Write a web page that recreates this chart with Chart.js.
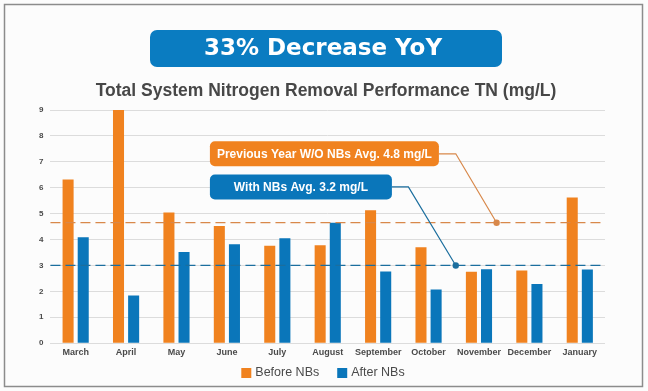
<!DOCTYPE html>
<html>
<head>
<meta charset="utf-8">
<script src="https://cdn.jsdelivr.net/npm/chart.js@4"></script>
<style>
  html, body { margin: 0; padding: 0; background: #fcfcfc; }
  #chart { display: block; }
</style>
</head>
<body>
<canvas id="chart" width="648" height="391"></canvas>
<script>
// Data
const months = ["March", "April", "May", "June", "July", "August", "September", "October", "November", "December", "January"];
const beforeNBs = [6.32, 9.0, 5.04, 4.52, 3.76, 3.78, 5.13, 3.70, 2.76, 2.81, 5.62];
const afterNBs = [4.09, 1.84, 3.52, 3.82, 4.05, 4.65, 2.77, 2.07, 2.85, 2.28, 2.84];
const yTicks = [0, 1, 2, 3, 4, 5, 6, 7, 8, 9];

const bannerText = "33% Decrease YoY";
const chartTitle = "Total System Nitrogen Removal Performance TN (mg/L)";

// Average lines + callouts (value = where the dashed line sits)
const avgLabels = ["Previous Year W/O NBs Avg. 4.8 mg/L", "With NBs Avg. 3.2 mg/L"];
const avgValues = [4.65, 3.0];
const avgDotAt = [8.35, 7.54];     // category index where the callout touches the line
const calloutAt = [7.31, 6.03];    // y value of callout box centre

const ORANGE = "#F0821F";
const BLUE = "#0A76BA";
const FONT = "'Liberation Sans', Arial, sans-serif";

// Frame, banner and title
const framePlugin = {
  id: "frame",
  beforeDraw(chart) {
    const ctx = chart.ctx;
    ctx.save();
    ctx.fillStyle = "#fcfcfc";
    ctx.fillRect(0, 0, chart.width, chart.height);
    ctx.strokeStyle = "#8c8c8c";
    ctx.lineWidth = 1.5;
    ctx.strokeRect(4.5, 4.5, 638, 382);

    ctx.fillStyle = "#0A7CC1";
    ctx.beginPath();
    ctx.roundRect(150, 30, 352, 37, 7);
    ctx.fill();
    ctx.fillStyle = "#fff";
    ctx.font = "bold 23px 'DejaVu Sans', sans-serif";
    ctx.textAlign = "center";
    ctx.textBaseline = "middle";
    ctx.fillText(bannerText, 323, 49);

    ctx.fillStyle = "#474747";
    ctx.font = "bold 17.5px " + FONT;
    ctx.fillText(chartTitle, 326, 91);
    ctx.restore();
  }
};

// Dashed avg lines with callouts
const avgPlugin = {
  id: "avgLines",
  afterDatasetsDraw(chart) {
    const { ctx, chartArea, scales: { x, y } } = chart;
    const colors = [ORANGE, BLUE];
    const lineColors = ["#D8884A", "#1B6E9E"];
    const boxW = [229, 182];
    const boxH = 25;
    const boxLeft = x.getPixelForValue(2.663);
    const elbow = [7.54, 6.6];
    ctx.save();
    avgValues.forEach((v, i) => {
      const py = y.getPixelForValue(v);
      ctx.strokeStyle = lineColors[i];
      ctx.lineWidth = 1.2;
      ctx.setLineDash([10, 5]);
      ctx.beginPath();
      ctx.moveTo(chartArea.left, py);
      ctx.lineTo(chartArea.right, py);
      ctx.stroke();
      ctx.setLineDash([]);

      const cy = y.getPixelForValue(calloutAt[i]);
      const bx = boxLeft, by = cy - boxH / 2;
      // connector
      ctx.beginPath();
      ctx.moveTo(bx + boxW[i], cy);
      ctx.lineTo(x.getPixelForValue(elbow[i]), cy);
      ctx.lineTo(x.getPixelForValue(avgDotAt[i]), py);
      ctx.stroke();
      ctx.fillStyle = lineColors[i];
      ctx.beginPath();
      ctx.arc(x.getPixelForValue(avgDotAt[i]), py, 3.2, 0, Math.PI * 2);
      ctx.fill();

      // box
      ctx.fillStyle = colors[i];
      ctx.beginPath();
      ctx.roundRect(bx, by, boxW[i], boxH, 5);
      ctx.fill();
      ctx.fillStyle = "#fff";
      ctx.font = "bold 12px " + FONT;
      ctx.textAlign = "center";
      ctx.textBaseline = "middle";
      ctx.fillText(avgLabels[i], bx + boxW[i] / 2, cy + 0.5);
    });
    ctx.restore();
  }
};

// Legend drawn by hand so it can sit close under the axis
const legendPlugin = {
  id: "bottomLegend",
  afterDraw(chart) {
    const ctx = chart.ctx;
    const sets = chart.data.datasets;
    ctx.save();
    ctx.font = "12.5px " + FONT;
    ctx.textBaseline = "middle";
    ctx.textAlign = "left";
    const box = 10, gapText = 4, gapItem = 18;
    const widths = sets.map(d => ctx.measureText(d.label).width);
    const total = widths.reduce((a, w) => a + box + gapText + w, 0) + gapItem * (sets.length - 1);
    let cx = 323 - total / 2;
    const cy = 372.5;
    sets.forEach((d, i) => {
      ctx.fillStyle = d.backgroundColor;
      ctx.fillRect(cx, cy - 4.5, box, 10);
      ctx.fillStyle = "#4a4a4a";
      ctx.fillText(d.label, cx + box + gapText, cy);
      cx += box + gapText + widths[i] + gapItem;
    });
    ctx.restore();
  }
};

new Chart(document.getElementById("chart"), {
  type: "bar",
  data: {
    labels: months,
    datasets: [
      { label: "Before NBs", data: beforeNBs, backgroundColor: ORANGE, categoryPercentage: 0.6, barPercentage: 0.73 },
      { label: "After NBs", data: afterNBs, backgroundColor: BLUE, categoryPercentage: 0.6, barPercentage: 0.73 }
    ]
  },
  options: {
    responsive: false,
    animation: false,
    layout: { padding: { top: 110, left: 32, right: 43, bottom: 29 } },
    scales: {
      x: {
        grid: { display: false, drawTicks: false },
        border: { display: false },
        ticks: { color: "#4a4a4a", font: { family: FONT, size: 9, weight: "bold" }, padding: 4, maxRotation: 0, autoSkip: false }
      },
      y: {
        min: 0,
        max: 9,
        afterBuildTicks(axis) { axis.ticks = yTicks.map(v => ({ value: v })); },
        grid: { color: "#dcdcdc", lineWidth: 1, drawTicks: false },
        border: { display: false },
        ticks: { color: "#4a4a4a", font: { family: FONT, size: 8, weight: "bold" }, padding: 7 }
      }
    },
    plugins: {
      title: { display: false },
      legend: { display: false },
      tooltip: { enabled: false }
    }
  },
  plugins: [framePlugin, avgPlugin, legendPlugin]
});
</script>
</body>
</html>
